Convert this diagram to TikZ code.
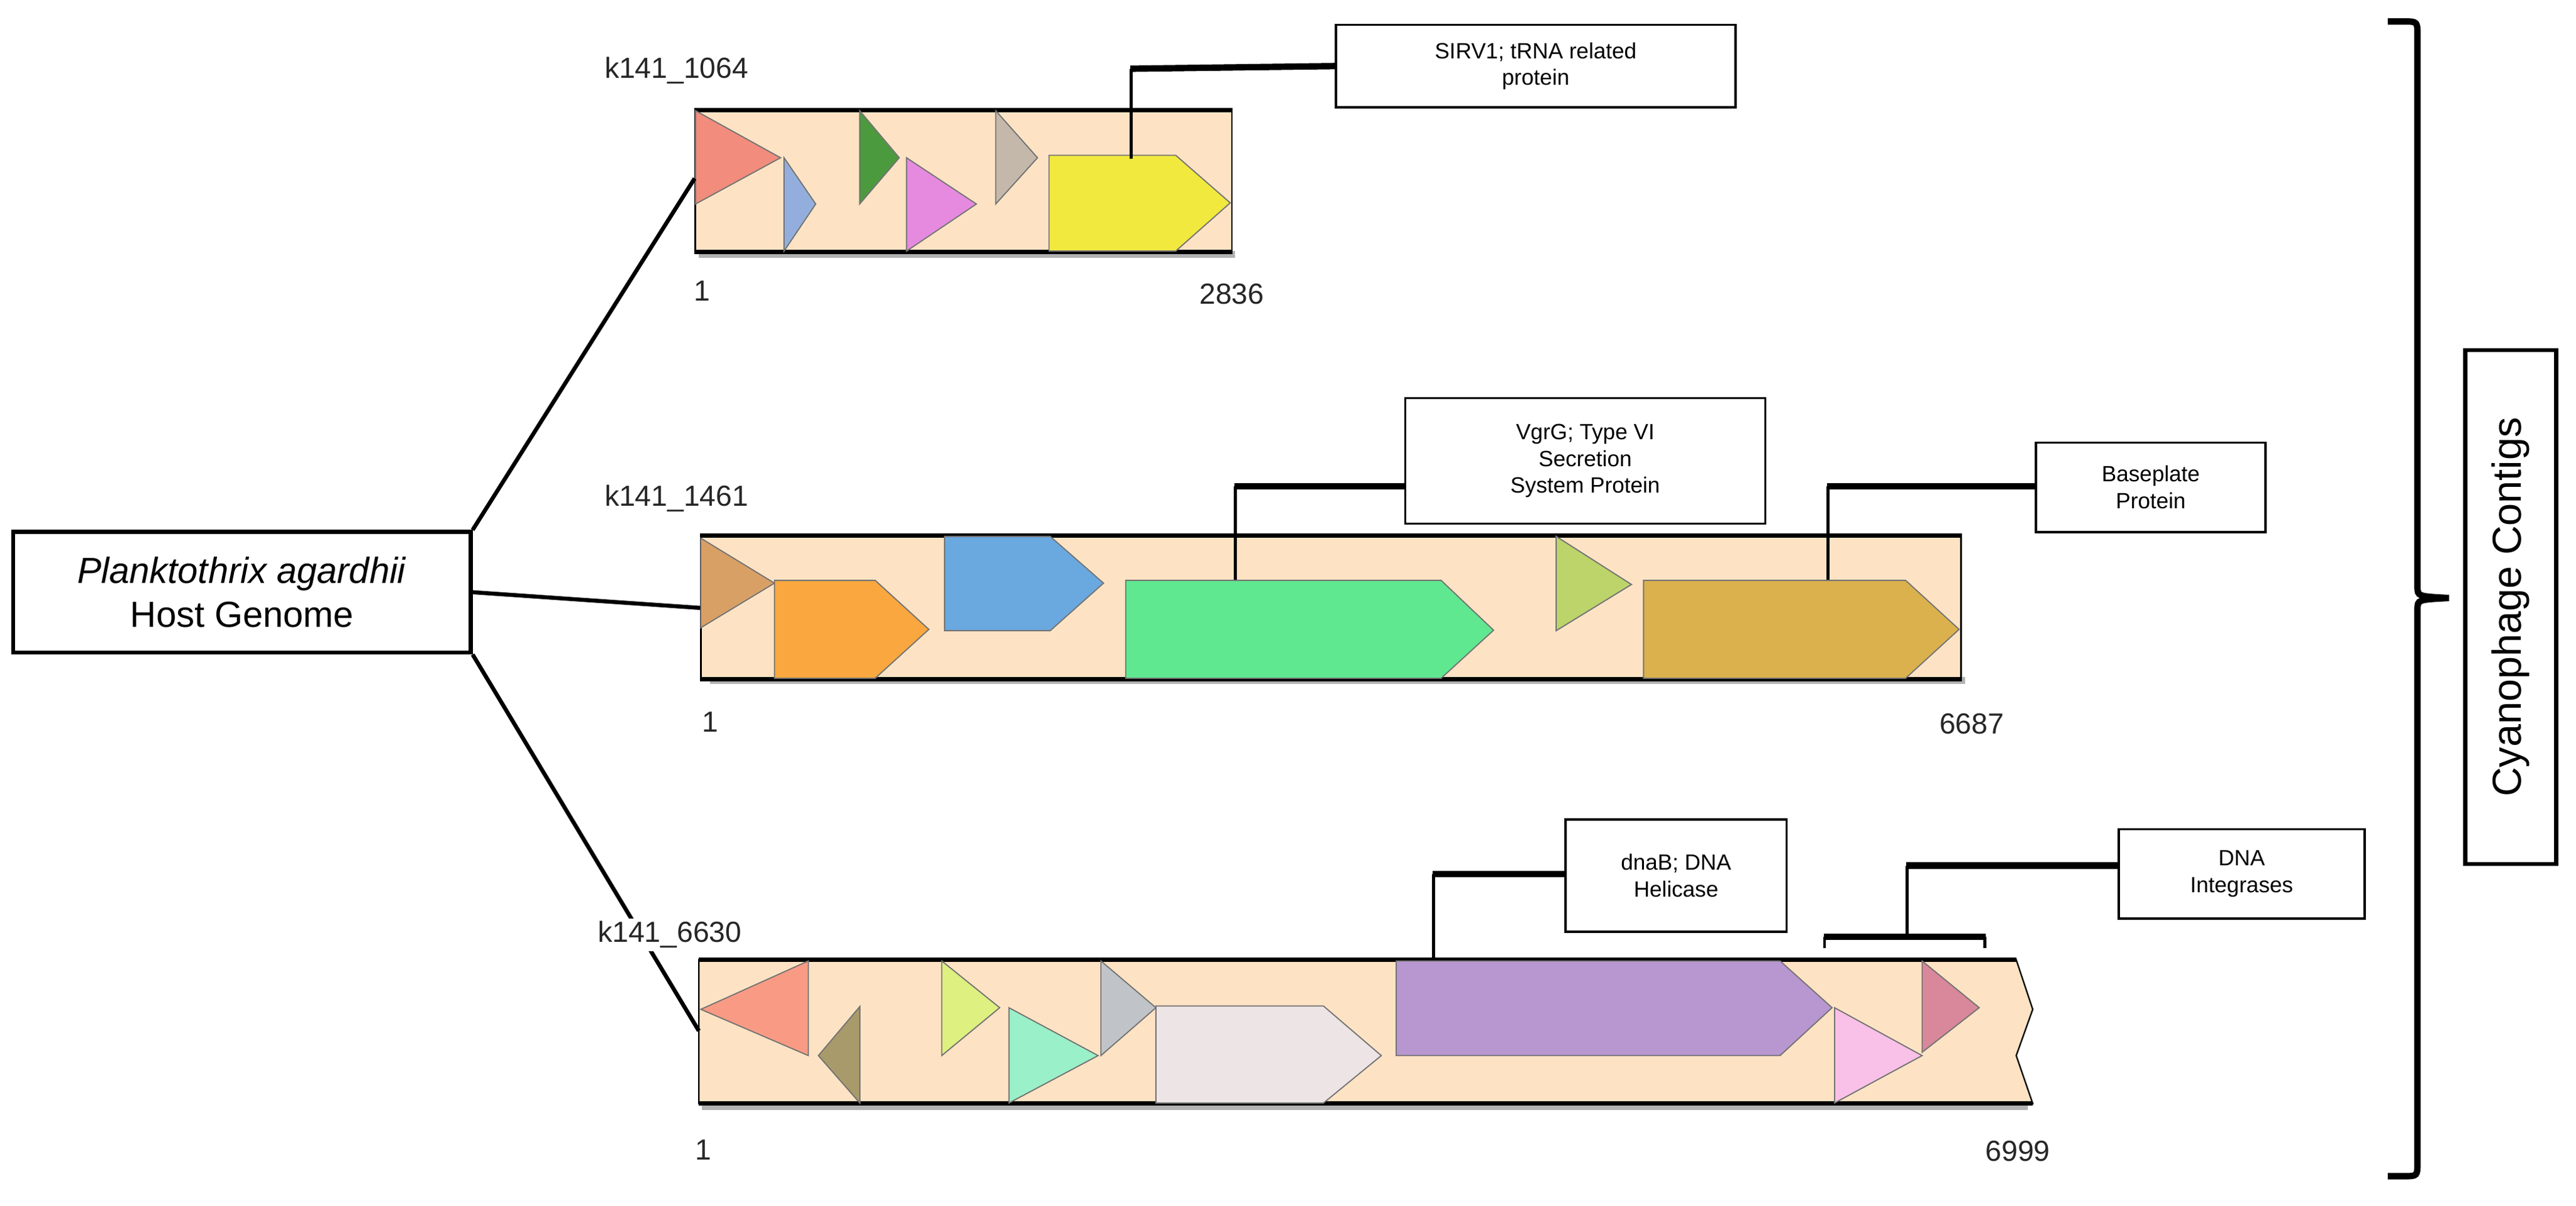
\documentclass[tikz,border=0pt]{standalone}
\usepackage{fontspec}
\setmainfont{Liberation Sans}
\begin{document}
\begin{tikzpicture}[x=0.02cm,y=-0.02cm,
  gene/.style={draw=black!55,line width=0.4pt},
  contig/.style={fill=cbg,draw=black,line width=0.5pt},
  rim/.style={line width=1.6pt,black},
  call/.style={draw=black,line width=0.8pt,fill=white,align=center,font=\fontsize{7.6}{9.2}\selectfont,inner sep=0pt},
  lead/.style={line width=1pt},
  leadk/.style={line width=2.2pt},
  lab/.style={font=\fontsize{10}{12}\selectfont,text=black!85},
  num/.style={font=\fontsize{10}{12}\selectfont,text=black!85}]
\definecolor{cbg}{HTML}{FDE3C4}
\useasboundingbox (0,0) rectangle (1560,730);
% host
\node[draw,line width=1.4pt,minimum width=277*0.02cm,minimum height=73*0.02cm,align=center,font=\fontsize{12.5}{15}\selectfont] (host) at (146.5,358.5) {\textit{Planktothrix agardhii}\\Host Genome};
% ---------- contig 1
\fill[black!30] (423,152) rectangle (748,156);
\node[contig,minimum width=325*0.02cm,minimum height=85*0.02cm,inner sep=0pt] (c1) at (583.6,109.5) {};
\draw[rim] (c1.north west)--(c1.north east); \draw[rim] (c1.south west)--(c1.south east);
\draw[gene,fill={rgb,255:red,242;green,140;blue,124}] (421.2,67)--(421.2,123.5)--(472.7,95.5)--cycle;
\draw[gene,fill={rgb,255:red,147;green,174;blue,221}] (474.8,95.5)--(474.8,152)--(494,123.5)--cycle;
\draw[gene,fill={rgb,255:red,76;green,154;blue,62}] (520.6,67)--(520.6,123.5)--(544.6,95.5)--cycle;
\draw[gene,fill={rgb,255:red,230;green,138;blue,224}] (549,95.5)--(549,152)--(591.3,123.5)--cycle;
\draw[gene,fill={rgb,255:red,196;green,184;blue,170}] (603,67)--(603,123.5)--(628.3,95.5)--cycle;
\draw[gene,fill={rgb,255:red,242;green,233;blue,63}] (635.3,94)--(712,94)--(745,122.8)--(712,152)--(635.3,152)--cycle;
\node[lab,anchor=south west] (l1) at (360,57) {k141\_1064};
\node[num] (n1a) at (425,176) {1};
\node[num] (n1b) at (746,178) {2836};
\node[call,minimum width=242*0.02cm,minimum height=50*0.02cm] (t1) at (930,40) {SIRV1; tRNA related\\protein};
\coordinate (g1) at (685,96);
\draw[lead] (g1)--(685,41.6);
\draw[leadk] (684.5,41.6)--(t1.west);
% ---------- contig 2
\fill[black!30] (430,410) rectangle (1190,414);
\node[contig,minimum width=763*0.02cm,minimum height=86*0.02cm,inner sep=0pt] (c2) at (806,367.7) {};
\draw[rim] (c2.north west)--(c2.north east); \draw[rim] (c2.south west)--(c2.south east);
\draw[gene,fill={rgb,255:red,217;green,160;blue,102}] (424.4,325.8)--(424.4,380)--(469,353)--cycle;
\draw[gene,fill={rgb,255:red,249;green,167;blue,62}] (469,351.3)--(530,351.3)--(562.5,381)--(530,410.6)--(469,410.6)--cycle;
\draw[gene,fill={rgb,255:red,106;green,168;blue,224}] (572,324.7)--(636,324.7)--(668.3,353)--(636,381.8)--(572,381.8)--cycle;
\draw[gene,fill={rgb,255:red,95;green,232;blue,144}] (681.7,351.3)--(872.7,351.3)--(904.5,381.5)--(872.7,410.6)--(681.7,410.6)--cycle;
\draw[gene,fill={rgb,255:red,188;green,212;blue,106}] (942.4,324.7)--(942.4,381.8)--(988,353.8)--cycle;
\draw[gene,fill={rgb,255:red,219;green,177;blue,78}] (995.3,351.3)--(1154,351.3)--(1186.4,381)--(1154,410.6)--(995.3,410.6)--cycle;
\node[lab,anchor=south west] (l2) at (360,316) {k141\_1461};
\node[num] (n2a) at (430,437) {1};
\node[num] (n2b) at (1194,438) {6687};
\node[call,minimum width=218*0.02cm,minimum height=76*0.02cm] (t2) at (960,279) {VgrG; Type VI\\Secretion\\System Protein};
\coordinate (g2) at (748,351);
\draw[lead] (g2)--(748,294.5);
\draw[leadk] (747.5,294.5)--(t2.west |- 0,294.5);
\node[call,minimum width=139*0.02cm,minimum height=54*0.02cm] (t3) at (1302.5,295) {Baseplate\\Protein};
\coordinate (g3) at (1107,351);
\draw[lead] (g3)--(1107,294.5);
\draw[leadk] (1106.5,294.5)--(t3.west |- 0,294.5);
% ---------- contig 3
\fill[black!30] (425,668) rectangle (1228,672);
\path[contig] (423.2,581)--(1221,581)--(1231,611)--(1221,639)--(1231,668)--(423.2,668)--cycle;
\coordinate (c3w) at (423.2,624);
\draw[rim] (423.2,581)--(1221,581); \draw[rim] (423.2,668)--(1231,668);
\draw[gene,fill={rgb,255:red,249;green,155;blue,132}] (424.4,611)--(489.5,581.7)--(489.5,639)--cycle;
\draw[gene,fill={rgb,255:red,168;green,154;blue,106}] (495.6,639)--(520.7,609.3)--(520.7,667.7)--cycle;
\draw[gene,fill={rgb,255:red,221;green,240;blue,128}] (570.3,581.7)--(570.3,639)--(605.4,610)--cycle;
\draw[gene,fill={rgb,255:red,154;green,240;blue,200}] (611,610)--(611,667.7)--(665,639)--cycle;
\draw[gene,fill={rgb,255:red,192;green,196;blue,200}] (666.7,581.7)--(666.7,639)--(700,610)--cycle;
\draw[gene,fill={rgb,255:red,237;green,228;blue,230}] (700,609)--(801.5,609)--(836.5,639)--(801.5,667.7)--(700,667.7)--cycle;
\draw[gene,fill={rgb,255:red,184;green,150;blue,208}] (845.5,581.7)--(1078,581.7)--(1109.5,610)--(1078,639)--(845.5,639)--cycle;
\draw[gene,fill={rgb,255:red,249;green,192;blue,232}] (1111,610)--(1111,667.7)--(1164,639)--cycle;
\draw[gene,fill={rgb,255:red,217;green,135;blue,154}] (1164,581.7)--(1164,637)--(1198.6,610)--cycle;
\node[num] (n3a) at (426,696) {1};
\node[num] (n3b) at (1222,697) {6999};
\node[call,minimum width=134*0.02cm,minimum height=68*0.02cm] (t4) at (1015,530) {dnaB; DNA\\Helicase};
\coordinate (g4) at (868,581);
\draw[lead] (g4)--(868,529);
\draw[leadk] (867.5,529)--(t4.west |- 0,529);
\node[call,minimum width=149*0.02cm,minimum height=54*0.02cm] (t5) at (1357.5,529) {DNA\\Integrases};
\coordinate (br1) at (1105,574); \coordinate (br2) at (1202,574);
\draw[lead] (br1)--(1105,567); \draw[lead] (br2)--(1202,567);
\draw[leadk] (1104.5,567)--(1202.5,567);
\draw[lead] (1155,567)--(1155,524);
\draw[leadk] (1154.5,524)--(t5.west |- 0,524);
% host links
\draw[line width=1.4pt] (host.north east)--(c1.west |- 0,108);
\draw[line width=1.4pt] (host.east)--(c2.west |- 0,368);
\draw[line width=1.4pt] (host.south east)--(c3w);
\node[lab,anchor=south west,fill=white,inner sep=1pt] (l3) at (360,576) {k141\_6630};
% bracket
\coordinate (bt) at (1446,13); \coordinate (bb) at (1446,712);
\draw[line width=2.2pt] (bt)--(1456,13) .. controls (1464,13) .. (1464,22)--(1464,355) .. controls (1464,361) .. (1483,362) .. controls (1464,363) .. (1464,369)--(1464,703) .. controls (1464,712) .. (1456,712)--(bb);
\node[draw,line width=1.4pt,fill=white,rotate=90,minimum width=311*0.02cm,minimum height=55*0.02cm,font=\fontsize{14}{16}\selectfont] (cc) at (1520.5,367.5) {Cyanophage Contigs};
\end{tikzpicture}
\end{document}
